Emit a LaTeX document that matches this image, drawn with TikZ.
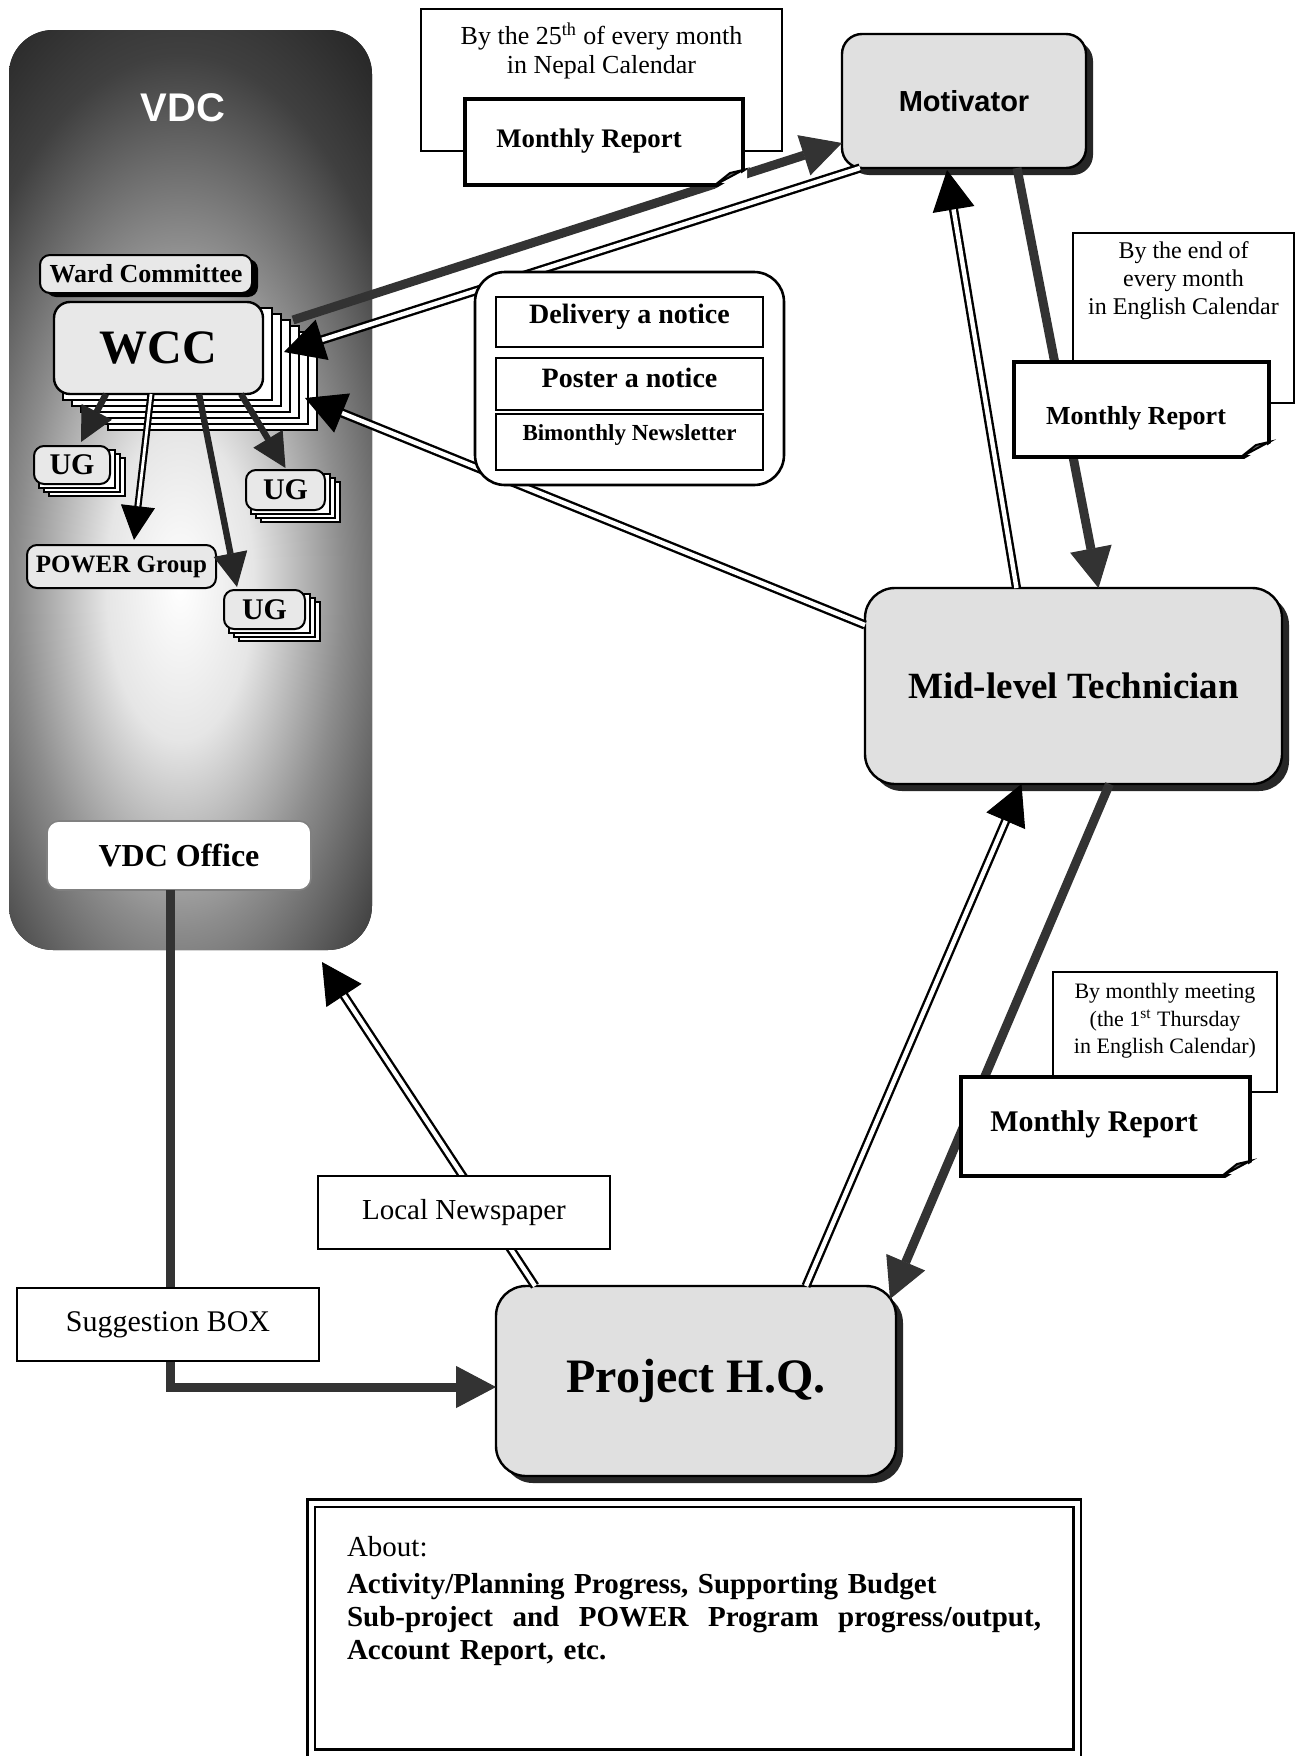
\documentclass[tikz,border=0pt]{standalone}
\usepackage{fontspec}
\setmainfont{Liberation Serif}
\newfontfamily\arialf{Liberation Sans}
\usetikzlibrary{arrows.meta,calc,shadows}
\newcommand\fsz[2]{\fontsize{#1}{#2}\selectfont}
% light glow in the middle of the VDC panel
\pgfdeclareradialshading{vdcglow}{\pgfpoint{0bp}{0bp}}{color(0bp)=(white); color(5bp)=(black!10); color(11bp)=(black!45); color(17bp)=(black!75); color(23bp)=(black!88); color(50bp)=(black!88)}
% folded lower right corner of a report sheet
\newcommand\foldnote[1]{%
  \fill[white] ($(#1.south east)+(-28,4)$) -- ($(#1.south east)+(4,4)$) -- ($(#1.south east)+(4,-15)$) -- cycle;
  \draw[line width=1.8pt] ($(#1.south west)+(0,0)$) -- ($(#1.south east)+(-28,0)$);
  \draw[line width=1.8pt] ($(#1.north east)$) -- ($(#1.south east)+(0,-15)$);
  \draw[line width=1pt, fill=black!60] ($(#1.south east)+(-28,0)$) -- ($(#1.south east)+(0,-15)$) -- ($(#1.south east)+(-13,-12)$) -- cycle;
}
\begin{document}
\begin{tikzpicture}[x=0.5pt,y=-0.5pt,
  every node/.style={inner sep=0pt, outer sep=0pt},
  graybox/.style={draw, line width=1.2pt, fill=black!12, rounded corners=10pt,
    drop shadow={shadow xshift=3.5pt, shadow yshift=-3.5pt, fill=black!85, opacity=1}},
  smallbox/.style={draw, line width=1pt, fill=black!9, rounded corners=5pt, font=\bfseries},
  stackcopy/.style={draw, line width=0.6pt, fill=white},
  callout/.style={draw, line width=0.7pt, fill=white},
  note/.style={draw, line width=1.8pt, fill=white},
  listbox/.style={draw, line width=1.1pt, fill=white, minimum width=133.5pt},
  darrow/.style={draw=black!80, line width=4.5pt, -{Triangle[length=20pt,width=21pt,line width=0.5pt]}},
  harrow/.style={draw=black, line width=4.6pt, -{Triangle[length=20pt,width=21pt,line width=0.5pt]},
    postaction={draw=white, line width=2.2pt, shorten >=20pt, -}},
  sdarrow/.style={draw=black!85, line width=3.2pt, -{Triangle[length=17pt,width=17pt,line width=0.5pt]}},
  sharrow/.style={draw=black, line width=3.6pt, -{Triangle[length=17pt,width=17pt,line width=0.5pt]},
    postaction={draw=white, line width=1.4pt, shorten >=17pt, -}}
]
\useasboundingbox (0,0) rectangle (1297,1756);
\fill[white] (0,0) rectangle (1297,1756);

% ---------------- VDC panel ----------------
\node[fill=black!88, rounded corners=22pt, minimum width=181.5pt, minimum height=460pt] (vdc) at (190.5,490) {};
\begin{scope}
  \clip[rounded corners=22pt] (vdc.north west) rectangle (vdc.south east);
  \shade[shading=vdcglow] (180,585) ellipse [x radius=185pt, y radius=390pt];
\end{scope}
\node[text=white, font=\arialf\bfseries\fsz{20}{24}] (vdct) at (183,108) {VDC};

\node[smallbox, minimum width=106pt, minimum height=19pt, font=\bfseries\fsz{13}{15},
  drop shadow={shadow xshift=3pt, shadow yshift=-2pt, fill=black, opacity=1}] (ward) at (146,274) {Ward Committee};
\foreach \k in {6,5,...,1}{
  \node[stackcopy, minimum width=104.5pt, minimum height=46pt] (wccs\k) at ({158.5+9*\k},{348+6*\k}) {};
}
\node[smallbox, rounded corners=8pt, line width=1.2pt, minimum width=104.5pt, minimum height=46pt, font=\bfseries\fsz{24}{28}] (wcc) at (158.5,348) {WCC};

\foreach \k in {3,2,1}{
  \node[stackcopy, minimum width=38pt, minimum height=19pt] (ugas\k) at ({72+5*\k},{465+4*\k}) {};
  \node[stackcopy, minimum width=39.5pt, minimum height=20pt] (ugbs\k) at ({285.5+5*\k},{490+4*\k}) {};
  \node[stackcopy, minimum width=40.5pt, minimum height=19.5pt] (ugcs\k) at ({264.5+5*\k},{609.5+4*\k}) {};
}
\node[smallbox, minimum width=38pt, minimum height=19pt, font=\bfseries\fsz{15}{17}] (ug1) at (72,465) {UG};
\node[smallbox, minimum width=39.5pt, minimum height=20pt, font=\bfseries\fsz{15}{17}] (ug2) at (285.5,490) {UG};
\node[smallbox, minimum width=40.5pt, minimum height=19.5pt, font=\bfseries\fsz{15}{17}] (ug3) at (264.5,609.5) {UG};
\node[smallbox, minimum width=94.5pt, minimum height=21.5pt, font=\bfseries\fsz{12.5}{15}] (power) at (121.5,566.5) {POWER Group};
\node[draw=black!50, line width=0.8pt, fill=white, rounded corners=6pt, minimum width=132pt, minimum height=34.5pt,
  font=\bfseries\fsz{16}{19}] (office) at (179,855.5) {VDC Office};

% arrows from WCC to the groups
\draw[sdarrow] ($(wcc.south west)+(52,0)$) -- ($(ug1.north)+(9,-4)$);
\draw[sharrow] ($(wcc.south west)+(97,0)$) -- ($(power.north)+(12.5,-5)$);
\draw[sdarrow] ($(wcc.south west)+(145,0)$) -- ($(ug3.north)+(-27.5,-3)$);
\draw[sdarrow] ($(wcc.south west)+(187,0)$) -- ($(ug2.north)+(0,-2)$);

% ---------------- schedule call-outs ----------------
\node[callout, minimum width=180.5pt, minimum height=71pt] (nepal) at (601.5,80) {};
\node[align=center, font=\fsz{13}{14.5}] (nepalt) at (601.5,51) {By the 25\textsuperscript{th} of every month\\in Nepal Calendar};
\node[callout, minimum width=110.5pt, minimum height=85pt] (eng) at (1183.5,318) {};
\node[align=center, font=\fsz{12}{14}] (engt) at (1183.5,281) {By the end of\\every month\\in English Calendar};
\node[callout, minimum width=112pt, minimum height=60pt] (meet) at (1165,1032) {};
\node[align=center, font=\fsz{11}{13.8}] (meett) at (1165,1021) {By monthly meeting\\(the 1\textsuperscript{st} Thursday\\in English Calendar)};

% ---------------- main boxes ----------------
\node[graybox, minimum width=122pt, minimum height=67pt, font=\arialf\bfseries\fsz{14.5}{17}] (motiv) at (964,101) {Motivator};
\node[graybox, rounded corners=15pt, minimum width=208.5pt, minimum height=98pt, font=\bfseries\fsz{18.5}{22}] (mlt) at (1073.5,686) {Mid-level Technician};
\node[graybox, rounded corners=15pt, minimum width=200pt, minimum height=95pt, font=\bfseries\fsz{24}{28}] (phq) at (696,1381) {Project H.Q.};

% ---------------- connectors ----------------
\draw[darrow] ($(wcc.north east)+(30,18)$) -- ($(motiv.south west)+(0,-25)$);
\draw[harrow] ($(motiv.south west)+(18,0)$) -- ($(wcc.east)+(21,4)$);
\draw[harrow] ($(mlt.west)+(0,-61)$) -- ($(wcc.south east)+(42,4)$);
\draw[darrow] ($(motiv.south)+(53,0)$) -- ($(mlt.north)+(25,0)$);
\draw[harrow] ($(mlt.north)+(-57,0)$) -- ($(motiv.south)+(-17,2)$);
\draw[harrow] ($(phq.north)+(110,0)$) -- ($(mlt.south)+(-52,0)$);
\draw[darrow] ($(mlt.south)+(36,0)$) -- ($(phq.north east)+(-6,13)$);
\draw[darrow] ($(office.south)+(-9,0)$) |- ($(phq.west)+(0,6)$);
\draw[harrow] ($(phq.north west)+(39,0)$) -- ($(vdc.south east)+(-50,12)$);

% notice box, over the connectors that pass behind it
\node[draw, line width=1.3pt, fill=white, rounded corners=15pt, minimum width=154.5pt, minimum height=106.5pt] (notice) at (629.5,378.5) {};
\node[listbox, minimum height=25pt] (dlv) at (629.5,322) {};
\node[font=\bfseries\fsz{14}{16}] (dlvt) at (629.5,317) {Delivery a notice};
\node[listbox, minimum height=26pt] (pst) at (629.5,384) {};
\node[font=\bfseries\fsz{14}{16}] (pstt) at (629.5,378) {Poster a notice};
\node[listbox, minimum height=28pt] (bim) at (629.5,442) {};
\node[font=\bfseries\fsz{11.5}{14}] (bimt) at (629.5,435) {Bimonthly Newsletter};

% ---------------- report sheets and labels ----------------
\node[note, minimum width=139pt, minimum height=43pt] (mrep1) at (604,142) {};
\foldnote{mrep1}
\node[font=\bfseries\fsz{13.4}{16}] (mrep1t) at (589,141) {Monthly Report};
\node[note, minimum width=127.5pt, minimum height=47.5pt] (mrep2) at (1141.5,409.5) {};
\foldnote{mrep2}
\node[font=\bfseries\fsz{13}{16}] (mrep2t) at (1136,418) {Monthly Report};
\node[note, minimum width=144.5pt, minimum height=49.5pt] (mrep3) at (1105.5,1126.5) {};
\foldnote{mrep3}
\node[font=\bfseries\fsz{15}{18}] (mrep3t) at (1094,1124) {Monthly Report};

\node[callout, line width=0.9pt, minimum width=151pt, minimum height=36.5pt, font=\fsz{15}{18}] (sugg) at (168,1324.5) {Suggestion BOX};
\node[callout, line width=0.9pt, minimum width=146pt, minimum height=36.5pt, font=\fsz{14.5}{17}] (news) at (464,1212.5) {\raisebox{3pt}{Local Newspaper}};

% ---------------- summary box ----------------
\node[draw, line width=1.4pt, double, double distance=2.5pt, fill=white, minimum width=383pt, minimum height=125pt] (about) at (694,1628) {};
\node[anchor=north west, text width=350pt, align=left, font=\fsz{14.5}{16.5}] (aboutt) at (347,1536)
  {About:\\[2pt]
   {\bfseries Activity/Planning Progress, Supporting Budget\\
   \makebox[347pt][l]{Sub-project\hfill and\hfill POWER\hfill Program\hfill progress/output,}\\
   Account Report, etc.}};
\end{tikzpicture}
\end{document}
